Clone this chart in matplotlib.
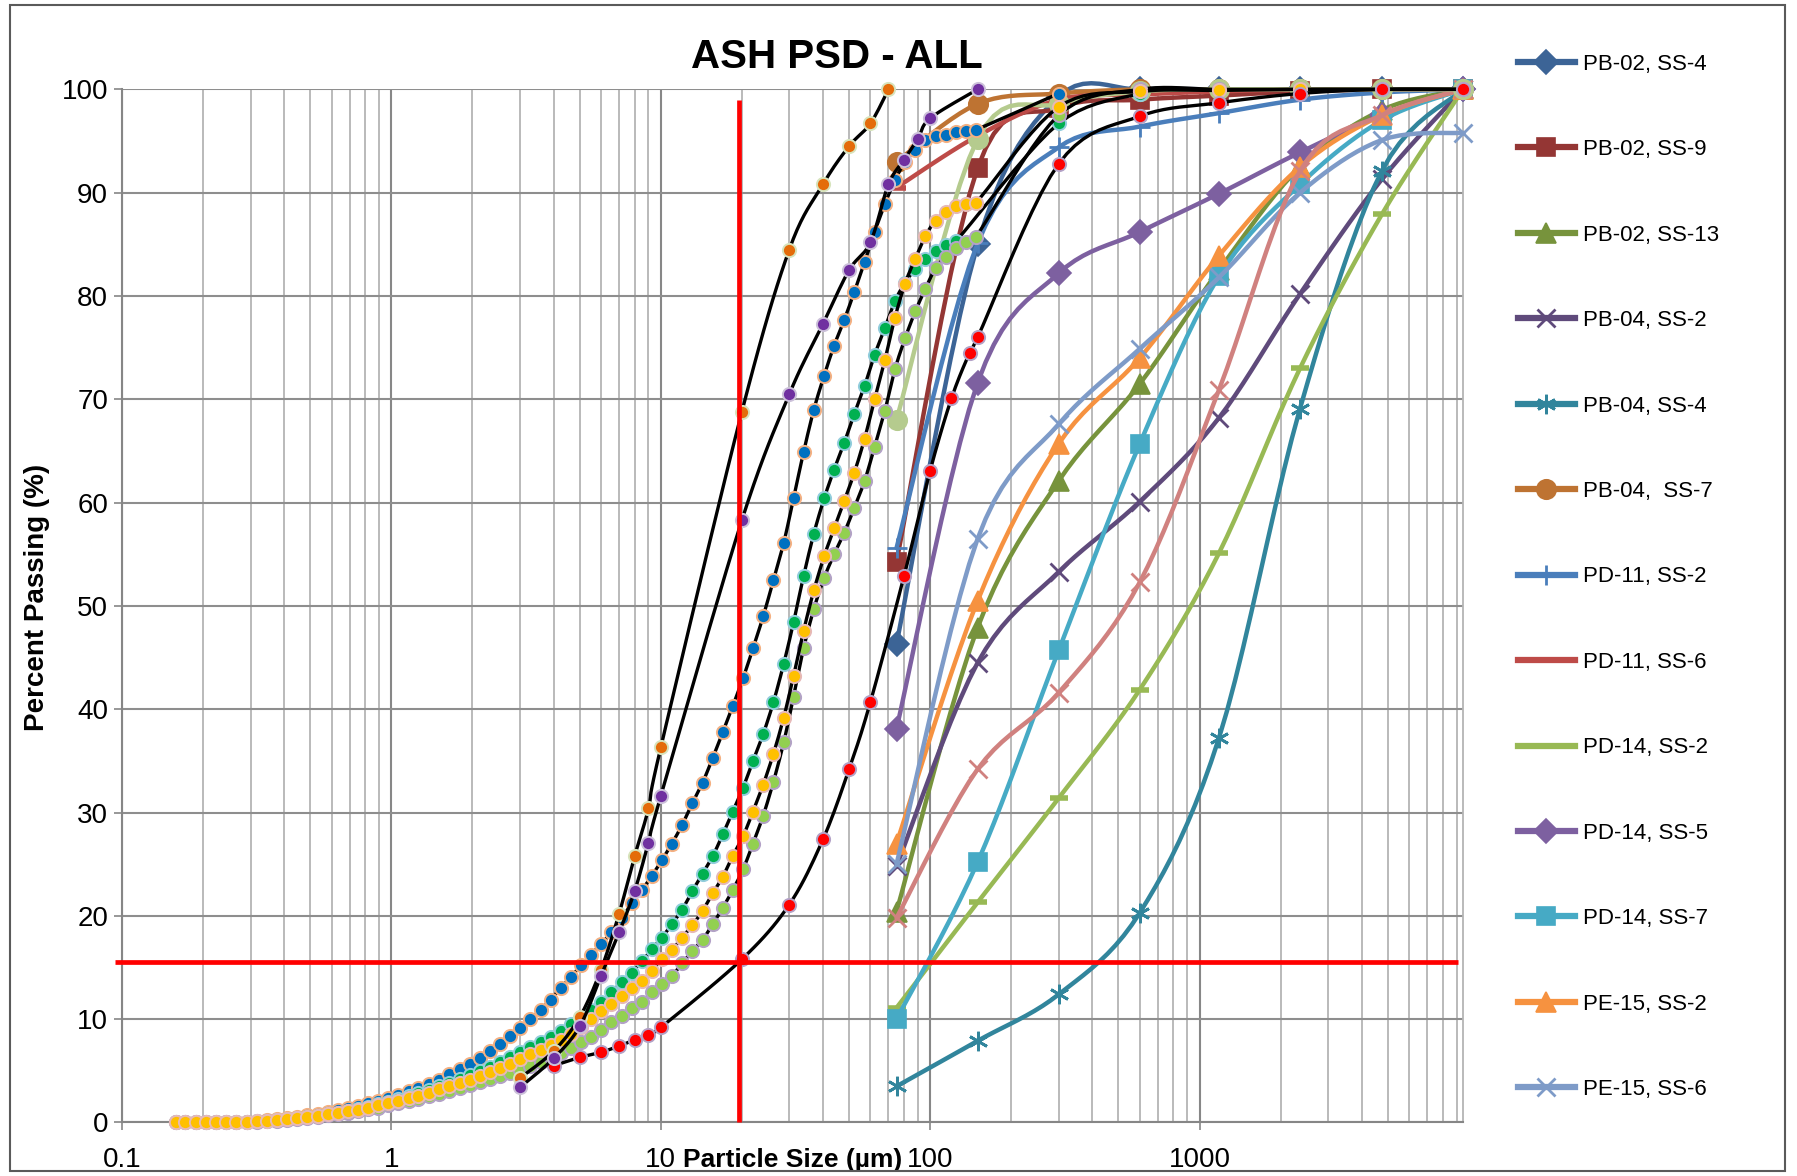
import numpy as np
import matplotlib
matplotlib.use('Agg')
import matplotlib.pyplot as plt
from matplotlib import font_manager as fm
from matplotlib.lines import Line2D
from matplotlib.patches import Rectangle

###------------------------- data ------------------------------------------###
# sieve sizes (um)
sieve_um = [75, 150, 300, 600, 1180, 2360, 4750, 9500]

pb02_ss4  = [46.3, 85.0, 99.3, 100, 100, 100, 100, 100]
pb02_ss9  = [54.3, 92.4, 98.2, 99.0, 99.4, 99.8, 100, 100]
pb02_ss13 = [20.4, 47.9, 62.1, 71.5, 82.5, 92.5, 98.0, 100]
pb04_ss2  = [24.8, 44.5, 53.3, 60.1, 68.2, 80.2, 91.3, 100]
pb04_ss4  = [3.5, 7.9, 12.4, 20.3, 37.2, 69.1, 92.1, 100]
pb04_ss7  = [93.0, 98.6, 99.6, 100, 100, 100, 100, 100]
pd11_ss2  = [55.6, 85.1, 94.4, 96.4, 97.7, 99.0, 99.7, 100]
pd11_ss6  = [90.5, 95.5, 99.0, 99.5, 99.8, 100, 100, 100]
pd14_ss2  = [11.1, 21.3, 31.4, 41.9, 55.1, 73.0, 87.9, 100]
pd14_ss5  = [38.1, 71.6, 82.2, 86.2, 89.9, 93.9, 97.5, 100]
pd14_ss7  = [10.0, 25.2, 45.7, 65.7, 81.9, 90.8, 97.0, 100]
pe15_ss2  = [27.0, 50.5, 65.7, 74.0, 83.9, 92.5, 97.5, 100]
pe15_ss6  = [25.0, 56.5, 67.6, 74.9, 81.8, 90.0, 95.1, 95.8]
# sieve series not shown in the legend
sieve_pink  = [19.8, 34.2, 41.6, 52.3, 70.9, 92.1, 97.5, 100]
sieve_olive = [68.0, 95.2, 98.6, 99.8, 100, 100, 100, 100]

# laser diffraction bins (um)
bins_um = [0.158, 0.172, 0.188, 0.205, 0.224, 0.244, 0.266, 0.290, 0.316, 0.345,
           0.376, 0.410, 0.447, 0.488, 0.532, 0.580, 0.632, 0.690, 0.752, 0.820,
           0.894, 0.975, 1.06, 1.16, 1.26, 1.38, 1.50, 1.64, 1.79, 1.95,
           2.13, 2.32, 2.53, 2.76, 3.01, 3.28, 3.58, 3.90, 4.25, 4.64,
           5.06, 5.52, 6.02, 6.56, 7.15, 7.80, 8.51, 9.28, 10.1, 11.0,
           12.0, 13.1, 14.3, 15.6, 17.0, 18.5, 20.2, 22.0, 24.0, 26.2,
           28.6, 31.1, 33.9, 37.0, 40.4, 44.0, 48.0, 52.3, 57.1, 62.2,
           67.9, 74.0, 80.7, 88.0, 96.0, 104.7, 114.1, 124.5, 135.7, 148.0]

blue_pct = [0, 0, 0, 0, 0, 0, 0.05, 0.08, 0.12, 0.2,
            0.3, 0.42, 0.55, 0.7, 0.85, 1.0, 1.2, 1.4, 1.6, 1.85,
            2.1, 2.35, 2.65, 3.0, 3.35, 3.75, 4.15, 4.65, 5.15, 5.7,
            6.25, 6.95, 7.6, 8.35, 9.15, 10.0, 10.9, 11.9, 13.0, 14.1,
            15.2, 16.25, 17.3, 18.4, 19.75, 21.2, 22.5, 23.9, 25.4, 27.0,
            28.8, 30.9, 32.9, 35.3, 37.8, 40.3, 43.0, 45.9, 49.0, 52.5,
            56.1, 60.4, 64.9, 69.0, 72.3, 75.2, 77.7, 80.4, 83.3, 86.2,
            88.9, 91.2, 93.0, 94.1, 95.1, 95.5, 95.6, 95.9, 96.0, 96.1]
blue_tail_um = [300]
blue_tail_pct = [99.6]

green_pct = [0, 0, 0, 0, 0, 0, 0.03, 0.05, 0.1, 0.15,
             0.2, 0.3, 0.4, 0.5, 0.65, 0.8, 0.95, 1.1, 1.3, 1.5,
             1.75, 2.0, 2.25, 2.55, 2.85, 3.15, 3.5, 3.8, 4.2, 4.6,
             5.0, 5.4, 5.9, 6.3, 6.8, 7.3, 7.8, 8.3, 8.9, 9.5,
             10.2, 10.9, 11.7, 12.6, 13.6, 14.5, 15.6, 16.8, 17.9, 19.2,
             20.6, 22.4, 24.1, 25.8, 27.9, 30.1, 32.4, 35.0, 37.6, 40.7,
             44.4, 48.4, 52.9, 57.0, 60.4, 63.2, 65.8, 68.6, 71.3, 74.3,
             76.9, 79.5, 81.3, 82.6, 83.6, 84.4, 84.9, 85.3]
green_tail_um = [300, 600]
green_tail_pct = [96.7, 99.6]

yellow_pct = [0, 0, 0, 0, 0, 0, 0.03, 0.05, 0.1, 0.15,
              0.2, 0.3, 0.4, 0.5, 0.65, 0.8, 0.95, 1.1, 1.25, 1.45,
              1.65, 1.85, 2.1, 2.35, 2.6, 2.9, 3.2, 3.5, 3.8, 4.15,
              4.5, 4.9, 5.3, 5.7, 6.1, 6.6, 7.0, 7.5, 8.0, 8.6,
              9.2, 10.0, 10.8, 11.5, 12.2, 13.0, 13.7, 14.7, 15.8, 16.7,
              17.9, 19.1, 20.5, 22.2, 23.8, 25.8, 27.7, 30.1, 32.7, 35.7,
              39.2, 43.2, 47.6, 51.5, 54.8, 57.5, 60.2, 62.9, 66.2, 70.0,
              73.8, 77.9, 81.2, 83.6, 85.8, 87.3, 88.1, 88.7, 88.9, 89.05]
yellow_tail_um = [300, 600, 1180, 2360, 4750, 9500]
yellow_tail_pct = [98.3, 99.8, 99.9, 100, 100, 100]

lgreen_pct = [0, 0, 0, 0, 0, 0, 0.02, 0.04, 0.08, 0.12,
              0.18, 0.25, 0.35, 0.45, 0.55, 0.7, 0.8, 0.95, 1.1, 1.3,
              1.45, 1.65, 1.85, 2.1, 2.3, 2.55, 2.8, 3.05, 3.3, 3.6,
              3.9, 4.2, 4.5, 4.8, 5.1, 5.5, 5.9, 6.3, 6.7, 7.2,
              7.8, 8.3, 9.0, 9.7, 10.3, 11.1, 11.7, 12.6, 13.4, 14.2,
              15.4, 16.6, 17.7, 19.2, 20.8, 22.5, 24.5, 27.0, 29.7, 33.0,
              36.8, 41.2, 45.9, 49.7, 52.7, 55.0, 57.1, 59.5, 62.1, 65.4,
              68.9, 72.9, 75.9, 78.5, 80.7, 82.7, 83.8, 84.6, 85.2, 85.75]
lgreen_tail_um = [300, 600, 1180, 2360, 4750, 9500]
lgreen_tail_pct = [97.5, 100, 100, 100, 100, 100]

# hydrometer style series
orange_um  = [3, 4, 5, 6, 7, 8, 9, 10, 20, 30, 40, 50, 60, 70]
orange_pct = [4.3, 6.9, 10.2, 14.8, 20.2, 25.8, 30.4, 36.3, 68.8, 84.5, 90.8, 94.5, 96.7, 100]
purple_um  = [3, 4, 5, 6, 7, 8, 9, 10, 20, 30, 40, 50, 60, 70, 80, 90, 100, 150]
purple_pct = [3.4, 6.2, 9.3, 14.2, 18.4, 22.4, 27.1, 31.6, 58.3, 70.5, 77.3, 82.5,
              85.2, 90.8, 93.2, 95.2, 97.2, 100]
red_um  = [4, 5, 6, 7, 8, 9, 10, 20, 30, 40, 50, 60, 80, 100, 120, 140, 150,
           300, 600, 1180, 2360, 4750, 9500]
red_pct = [5.5, 6.3, 6.8, 7.4, 8.0, 8.5, 9.2, 15.8, 21.1, 27.4, 34.2, 40.7, 52.9,
           63.1, 70.1, 74.5, 76.0, 92.8, 97.4, 98.7, 99.6, 100, 100]

# D15 guide lines
d15_size = 19.5
d15_pct = 15.5

###------------------------- fonts -----------------------------------------###
def have(name):
    try:
        fm.findfont(fm.FontProperties(family=name), fallback_to_default=False)
        return True
    except Exception:
        return False

if have('Liberation Sans Narrow'):
    narrow, k = 'Liberation Sans Narrow', 1.15
else:
    narrow, k = 'Liberation Sans', 1.0
bold_font = 'Liberation Sans' if have('Liberation Sans') else 'DejaVu Sans'

###------------------------- helpers ---------------------------------------###
def smooth(x, y, n=10):
    """Excel-like smoothed line (Catmull-Rom in log-x space)"""
    p = np.column_stack([np.log10(np.asarray(x, float)), np.asarray(y, float)])
    if len(p) < 3:
        return 10 ** p[:, 0], p[:, 1]
    P = np.vstack([p[0], p, p[-1]])
    t = np.linspace(0, 1, n, endpoint=False)[:, None]
    segs = []
    for i in range(1, len(P) - 2):
        p0, p1, p2, p3 = P[i - 1], P[i], P[i + 1], P[i + 2]
        c1 = p1 + (p2 - p0) / 6.0
        c2 = p2 - (p3 - p1) / 6.0
        b = ((1 - t) ** 3) * p1 + 3 * ((1 - t) ** 2) * t * c1 + 3 * (1 - t) * t ** 2 * c2 + t ** 3 * p2
        segs.append(b)
    segs.append(p[-1][None, :])
    out = np.vstack(segs)
    return 10 ** out[:, 0], out[:, 1]


def draw(ax, x, y, color, marker, ms, mfc=None, mec=None, mew=1.2, lw=3.0, z=3, lc=None):
    sx, sy = smooth(x, y)
    ax.plot(sx, sy, color=lc or color, lw=lw, zorder=z, clip_on=False,
            solid_capstyle='round', solid_joinstyle='round')
    ax.plot(x, y, ls='none', marker=marker, ms=ms, mfc=mfc or color,
            mec=mec or color, mew=mew, zorder=z + 0.01, clip_on=False)

###------------------------- figure ----------------------------------------###
fig = plt.figure(figsize=(17.97, 11.76), dpi=100)
fig.patch.set_facecolor('white')
ax = fig.add_axes([0.0679, 0.0455, 0.7462, 0.8785])

ax.set_xscale('log')
ax.set_xlim(0.1, 9500)
ax.set_ylim(0, 100)
ax.set_yticks(np.arange(0, 101, 10))
ax.set_xticks([0.1, 1, 10, 100, 1000])
ax.set_xticklabels(['0.1', '1', '10', '100', '1000'])
ax.xaxis.set_minor_formatter(matplotlib.ticker.NullFormatter())
ax.tick_params(axis='x', which='minor', length=0)
ax.tick_params(axis='x', which='major', length=6, width=1.2, color='#868686', pad=12,
               labelsize=20 * k)
ax.tick_params(axis='y', which='major', length=6, width=1.2, color='#868686', pad=4,
               labelsize=20 * k)
for lab in ax.get_xticklabels() + ax.get_yticklabels():
    lab.set_fontfamily(narrow)

ax.grid(True, which='minor', axis='x', color='#B4B4B4', lw=1.3)
ax.grid(True, which='major', axis='x', color='#878787', lw=1.5)
ax.grid(True, which='major', axis='y', color='#8E8E8E', lw=1.5)
ax.set_axisbelow(True)
for s in ['left', 'bottom']:
    ax.spines[s].set_color('#868686')
    ax.spines[s].set_linewidth(1.5)
ax.spines['right'].set_color('#B4B4B4')
ax.spines['right'].set_linewidth(1.3)
ax.spines['top'].set_visible(False)

# sieve series (legend order)
sieve_series = [
    ('PB-02, SS-4',  pb02_ss4,  '#3C6496', 'D', 12, 1.2),
    ('PB-02, SS-9',  pb02_ss9,  '#943634', 's', 13, 1.2),
    ('PB-02, SS-13', pb02_ss13, '#77933C', '^', 14, 1.2),
    ('PB-04, SS-2',  pb04_ss2,  '#5F4A7B', 'x', 13, 2.0),
    ('PB-04, SS-4',  pb04_ss4,  '#31859C', (6, 2, 0), 14, 2.0),
    ('PB-04,  SS-7', pb04_ss7,  '#BE7332', 'o', 14, 1.2),
    ('PD-11, SS-2',  pd11_ss2,  '#4A7EBB', '+', 14, 2.0),
    ('PD-11, SS-6',  pd11_ss6,  '#BE4B48', '_', 13, 4.0),
    ('PD-14, SS-2',  pd14_ss2,  '#98B954', '_', 13, 4.0),
    ('PD-14, SS-5',  pd14_ss5,  '#7D60A0', 'D', 12, 1.2),
    ('PD-14, SS-7',  pd14_ss7,  '#46AAC5', 's', 13, 1.2),
    ('PE-15, SS-2',  pe15_ss2,  '#F69240', '^', 14, 1.2),
    ('PE-15, SS-6',  pe15_ss6,  '#7E9BC8', 'x', 13, 2.0),
]
handles = []
for i, (name, vals, col, mk, ms, mew) in enumerate(sieve_series):
    draw(ax, sieve_um, vals, col, mk, ms, mew=mew, lw=3.2, z=3 + i * 0.02)
    handles.append(Line2D([], [], color=col, lw=4.5, marker=mk, ms=ms, mfc=col,
                          mec=col, mew=mew, label=name))
draw(ax, sieve_um, sieve_pink, '#D0817F', 'x', 13, mew=2.0, lw=3.2, z=3.3)
draw(ax, sieve_um, sieve_olive, '#B5CB8E', 'o', 14, mew=1.2, lw=3.2, z=3.3)

# laser / hydrometer series, black smoothed lines with coloured dots
laser = [
    (bins_um + blue_tail_um, blue_pct + blue_tail_pct, '#0070C0', '#F4B183', 4.0),
    (bins_um[:len(green_pct)] + green_tail_um, green_pct + green_tail_pct, '#00B050', '#93CDDD', 4.1),
    (bins_um + lgreen_tail_um, lgreen_pct + lgreen_tail_pct, '#92D050', '#B3A2C7', 4.2),
    (bins_um + yellow_tail_um, yellow_pct + yellow_tail_pct, '#FFC000', '#E6B9B8', 4.3),
    (red_um, red_pct, '#FF0000', '#B3A2C7', 4.4),
    (orange_um, orange_pct, '#E46C0A', '#D7E4BD', 4.5),
    (purple_um, purple_pct, '#7030A0', '#CCC1DA', 4.6),
]
for xs, ys, fc, ec, z in laser:
    draw(ax, xs, ys, fc, 'o', 9.5, mfc=fc, mec=ec, mew=1.4, lw=2.4, z=z, lc='black')

# D15 guide lines
ax.plot([d15_size, d15_size], [0, 99], color='#FF0000', lw=3.4, zorder=6, clip_on=False,
        solid_capstyle='butt')
ax.plot([0.094, 9100], [d15_pct, d15_pct], color='#FF0000', lw=3.4, zorder=6, clip_on=False,
        solid_capstyle='butt')

# labels
ax.set_xlabel('Particle Size (\u00b5m)', fontsize=19, fontweight='bold', family=bold_font)
ax.xaxis.set_label_coords(0.5, -0.0365)
ax.xaxis.label.set_va('center')
ax.set_ylabel('Percent Passing (%)', fontsize=20, fontweight='bold', family=bold_font)
ax.yaxis.set_label_coords(-0.0636, 0.508)
ax.yaxis.label.set_va('center')

fig.text(0.4658, 0.9515, 'ASH PSD - ALL', ha='center', va='center', fontsize=29 * k,
         fontweight='bold', family=narrow)

leg = fig.legend(handles=handles, loc='upper left', bbox_to_anchor=(0.8447, 0.9543),
                 frameon=False, borderpad=0, borderaxespad=0, handlelength=2.55,
                 handletextpad=0.36, labelspacing=2.9, prop={'family': narrow, 'size': 16 * k})

# chart border
fig.patches.append(Rectangle((10 / 1797, 5 / 1176), 1775 / 1797, 1166 / 1176,
                             transform=fig.transFigure, fill=False, ec='#5A5A5A', lw=1.5))

fig.savefig('out.png', dpi=100, facecolor='white')
